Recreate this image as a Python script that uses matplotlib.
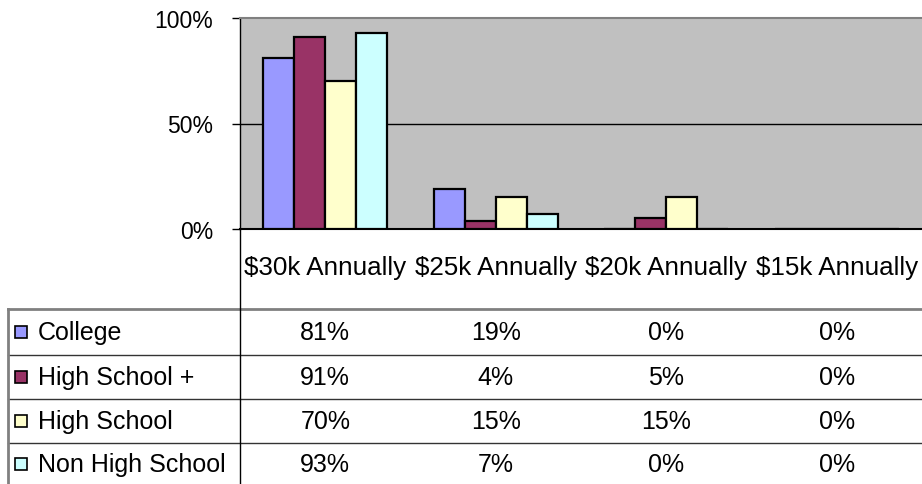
import matplotlib.pyplot as plt
import numpy as np
from matplotlib.lines import Line2D
from matplotlib.patches import Rectangle
from matplotlib.transforms import blended_transform_factory

plt.rcParams['font.family'] = ['Liberation Sans', 'DejaVu Sans']

categories = ['$30k Annually', '$25k Annually', '$20k Annually', '$15k Annually']
groups = ['College', 'High School +', 'High School', 'Non High School']
college = [81, 19, 0, 0]
high_school_plus = [91, 4, 5, 0]
high_school = [70, 15, 15, 0]
non_high_school = [93, 7, 0, 0]
values = [college, high_school_plus, high_school, non_high_school]
colors = ['#9999FF', '#993366', '#FFFFCC', '#CCFFFF']

W, H = 922, 485
fig = plt.figure(figsize=(W / 100, H / 100), dpi=100)


def fx(px):
    return px / W


def fy(py):
    return 1 - py / H


ax = fig.add_axes([fx(240), fy(230), fx(922 - 240), (230 - 19) / H])
ax.set_facecolor('#C0C0C0')

x = np.arange(len(categories))
width = 1 / 5.5  # gap width of 150% between groups
for i, (vals, c) in enumerate(zip(values, colors)):
    ax.bar(x + (i - 1.5) * width, vals, width, color=c, edgecolor='black',
           linewidth=1.6, zorder=3)

ax.set_xlim(-0.5, len(categories) - 0.5)
ax.set_ylim(0, 100)
ax.set_yticks([0, 50, 100])
ax.set_yticklabels(['0%', '50%', '100%'], fontsize=16.5)
ax.set_xticks([])
ax.axhline(50, color='black', linewidth=1, zorder=1)
ax.tick_params(axis='y', length=6, width=1, pad=13.5)
ax.spines['right'].set_visible(False)
ax.spines['top'].set_color('#808080')
ax.spines['top'].set_linewidth(1.5)
ax.spines['left'].set_linewidth(1)
ax.spines['bottom'].set_linewidth(1.5)

# data table under the chart
tr = blended_transform_factory(ax.transData, fig.transFigure)
for i, cat in enumerate(categories):
    fig.text(i, fy(268), cat, transform=tr, ha='center', va='center', fontsize=18.7)

row_lines = [310, 356, 400, 444]
row_centers = [333, 378, 422, 465]
for r, (name, vals, c) in enumerate(zip(groups, values, colors)):
    yc = fy(row_centers[r])
    fig.patches.append(Rectangle((fx(15), yc - 6 / H), 12 / W, 12 / H,
                                 transform=fig.transFigure, facecolor=c,
                                 edgecolor='black', linewidth=1.2))
    fig.text(fx(38), yc, name, ha='left', va='center', fontsize=18)
    for i, v in enumerate(vals):
        fig.text(i, yc, f'{v}%', transform=tr, ha='center', va='center', fontsize=18)

for k, yl in enumerate(row_lines):
    fig.add_artist(Line2D([fx(8), 1], [fy(yl), fy(yl)],
                          color='#808080' if k == 0 else '#333333',
                          linewidth=2 if k == 0 else 1))
fig.add_artist(Line2D([fx(8), fx(8)], [fy(310), 0], color='#808080', linewidth=2))
fig.add_artist(Line2D([fx(240), fx(240)], [fy(230), 0], color='black', linewidth=1))

fig.savefig('out.png', dpi=100)
